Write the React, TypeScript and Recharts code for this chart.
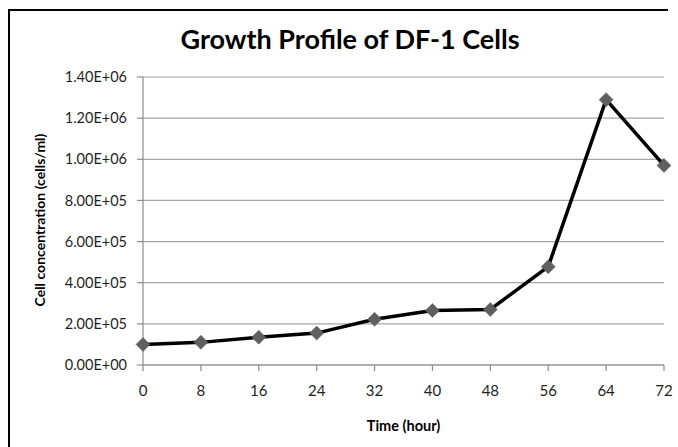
import React from "react";
import { LineChart, Line, XAxis, YAxis, CartesianGrid, Label } from "recharts";

const hours = [0, 8, 16, 24, 32, 40, 48, 56, 64, 72];
const cellConcentration = [100000, 110000, 135000, 155000, 222000, 265000, 270000, 478000, 1290000, 970000];
const yTicks = [0, 200000, 400000, 600000, 800000, 1000000, 1200000, 1400000];
const xTicks = [0, 8, 16, 24, 32, 40, 48, 56, 64, 72];

const title = "Growth Profile of DF-1 Cells";
const xTitle = "Time (hour)";
const yTitle = "Cell concentration  (cells/ml)";

const data = hours.map((h, i) => ({ time: h, value: cellConcentration[i] }));

const sci = (v: number) => {
  const [m, e] = v.toExponential(2).split("e");
  const sign = e.startsWith("-") ? "-" : "+";
  const digits = e.replace(/[+-]/, "").padStart(2, "0");
  return `${m}E${sign}${digits}`;
};

const FONT = "Lato, 'Liberation Sans', sans-serif";

const Diamond = (props: any) => {
  const { cx, cy } = props;
  if (cx == null || cy == null) return null;
  const r = 7;
  return (
    <polygon
      points={`${cx},${cy - r} ${cx + r},${cy} ${cx},${cy + r} ${cx - r},${cy}`}
      fill="#5f5f5f"
      stroke="#5f5f5f"
      strokeWidth={0.5}
    />
  );
};

const YLabel = (props: any) => {
  const vb = props.viewBox || {};
  const cx = 39;
  const cy = vb.y + vb.height / 2 - 1;
  return (
    <text
      x={cx}
      y={cy}
      transform={`rotate(-90, ${cx}, ${cy})`}
      textAnchor="middle"
      dominantBaseline="central"
      fontFamily={FONT}
      fontWeight={700}
      fontSize={14}
      fill="#000"
    >
      {yTitle}
    </text>
  );
};

const XLabel = (props: any) => {
  const vb = props.viewBox || {};
  const cx = vb.x + vb.width / 2;
  return (
    <text
      x={cx}
      y={vb.y + 60}
      textAnchor="middle"
      dominantBaseline="central"
      fontFamily={FONT}
      fontWeight={700}
      fontSize={14.5}
      fill="#000"
    >
      {xTitle}
    </text>
  );
};

export default function App() {
  return (
    <div style={{ position: "absolute", left: 0, top: 0, width: 678, height: 447, background: "#fff", overflow: "hidden" }}>
      <div
        style={{
          position: "absolute",
          left: 8,
          top: 9,
          width: 660,
          height: 460,
          borderTop: "2.5px solid #000",
          borderLeft: "2.5px solid #000",
          boxSizing: "border-box",
        }}
      />
      <div
        style={{
          position: "absolute",
          left: 0,
          top: 22,
          width: 700,
          textAlign: "center",
          fontFamily: FONT,
          fontWeight: 700,
          fontSize: 27,
          color: "#000",
          lineHeight: "34px",
        }}
      >
        {title}
      </div>
      <div style={{ position: "absolute", left: 0, top: 0 }}>
        <LineChart width={678} height={447} data={data} margin={{ top: 77, right: 14, bottom: 0, left: 0 }}>
          <CartesianGrid vertical={false} stroke="#a6a6a6" strokeWidth={1.2} />
          <XAxis
            dataKey="time"
            type="number"
            domain={[0, 72]}
            ticks={xTicks}
            height={82}
            tickSize={6}
            tickMargin={14}
            axisLine={{ stroke: "#8c8c8c", strokeWidth: 1.2 }}
            tickLine={{ stroke: "#8c8c8c", strokeWidth: 1.2 }}
            tick={{ fontFamily: FONT, fontSize: 15, fill: "#1f1f1f" }}
            interval={0}
          >
            <Label content={<XLabel />} />
          </XAxis>
          <YAxis
            type="number"
            domain={[0, 1400000]}
            ticks={yTicks}
            width={143}
            tickSize={6}
            tickMargin={10}
            tickFormatter={sci}
            axisLine={{ stroke: "#8c8c8c", strokeWidth: 1.2 }}
            tickLine={{ stroke: "#8c8c8c", strokeWidth: 1.2 }}
            tick={{ fontFamily: FONT, fontSize: 14.5, fill: "#1f1f1f" }}
            interval={0}
          >
            <Label content={<YLabel />} />
          </YAxis>
          <Line
            type="linear"
            dataKey="value"
            stroke="#000"
            strokeWidth={3.5}
            dot={<Diamond />}
            activeDot={false}
            isAnimationActive={false}
          />
        </LineChart>
      </div>
    </div>
  );
}
